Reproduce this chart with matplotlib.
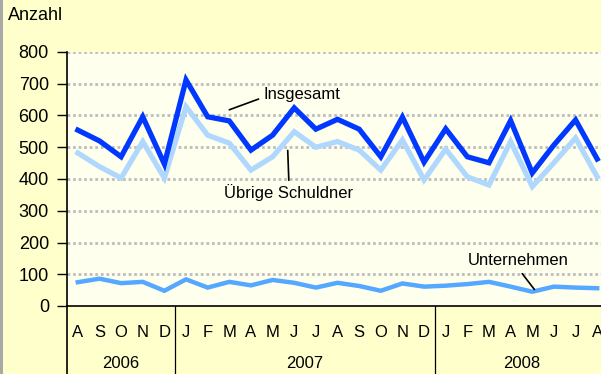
import matplotlib
matplotlib.use("Agg")
import matplotlib.pyplot as plt
from matplotlib.transforms import blended_transform_factory
from matplotlib.patches import Rectangle

plt.rcParams['font.family'] = ['Liberation Sans', 'DejaVu Sans']

months = ["A", "S", "O", "N", "D",
          "J", "F", "M", "A", "M", "J", "J", "A", "S", "O", "N", "D",
          "J", "F", "M", "A", "M", "J", "J", "A"]
years = ["2006", "2007", "2008"]
year_spans = [(0, 4), (5, 16), (17, 24)]

insgesamt = [554, 520, 470, 596, 447, 712, 596, 583, 491, 538, 624, 557, 588,
             557, 470, 595, 453, 558, 470, 451, 584, 419, 507, 586, 463]
uebrige = [482, 439, 403, 518, 403, 628, 538, 513, 428, 470, 549, 500, 518,
           491, 428, 523, 397, 494, 407, 381, 518, 376, 451, 529, 407]
unternehmen = [75, 86, 72, 76, 48, 84, 58, 76, 65, 82, 73, 58, 73,
               63, 48, 71, 61, 64, 69, 76, 61, 45, 61, 58, 56]

W, H = 601, 374
fig = plt.figure(figsize=(W / 100, H / 100), dpi=100, facecolor="#FFFFCC")

# grey border strip on the left edge
fig.patches.append(Rectangle((0, 0), 3 / W, 1, transform=fig.transFigure,
                             facecolor="#A8A8A8", edgecolor="none", zorder=0))

ax = fig.add_axes([67 / W, (H - 306) / H, 541 / W, 254 / H])
ax.set_facecolor("#FFFFEE")

x = list(range(len(months)))
ax.plot(x, uebrige, color="#B0D8FF", lw=3.8, solid_joinstyle="miter", zorder=3)
ax.plot(x, insgesamt, color="#0038FF", lw=3.8, solid_joinstyle="miter", zorder=4)
ax.plot(x, unternehmen, color="#55A8FF", lw=3.2, solid_joinstyle="miter", zorder=3)

ax.set_xlim(-0.5, len(months) - 0.5)
ax.set_ylim(0, 800)
ax.set_yticks(range(0, 801, 100))
ax.tick_params(axis="y", direction="out", length=7, width=1, pad=6, labelsize=13)
ax.set_xticks(x)
ax.set_xticklabels(months)
ax.tick_params(axis="x", length=0, pad=14, labelsize=12)

for y in range(100, 801, 100):
    ax.axhline(y, color="#BDBDBD", lw=2, ls=(0, (1, 1)), zorder=1)

for side in ("top", "right"):
    ax.spines[side].set_visible(False)
ax.spines["left"].set_linewidth(1.2)
ax.spines["bottom"].set_linewidth(1.2)

# category axis separators and year labels below the plot
tr = blended_transform_factory(ax.transData, ax.transAxes)
for sep in (-0.5, 4.5, 16.5):
    ax.plot([sep, sep], [0, -0.3], transform=tr, color="#000000",
            lw=1.2 if sep < 0 else 0.9, clip_on=False)
for label, (a, b) in zip(years, year_spans):
    ax.text((a + b) / 2, -0.225, label, transform=tr, ha="center", va="center",
            fontsize=12)

fig.text(8 / W, 1 - 16 / H, "Anzahl", ha="left", va="center", fontsize=13)

# series labels with leader lines
ax.annotate("Insgesamt", xy=(7.0, 618), xytext=(8.6, 666), fontsize=12,
            ha="left", va="center",
            arrowprops=dict(arrowstyle="-", color="black", lw=1.2,
                            shrinkA=0, shrinkB=0, relpos=(-0.07, 0.2)))
ax.annotate("Übrige Schuldner", xy=(9.7, 490), xytext=(9.75, 356), fontsize=12,
            ha="center", va="center",
            arrowprops=dict(arrowstyle="-", color="black", lw=1.2,
                            shrinkA=0, shrinkB=0, relpos=(0.5, 1.25)))
ax.annotate("Unternehmen", xy=(21.1, 52), xytext=(20.35, 142), fontsize=12,
            ha="center", va="center",
            arrowprops=dict(arrowstyle="-", color="black", lw=1.2,
                            shrinkA=0, shrinkB=0, relpos=(0.54, -0.35)))

fig.savefig("out.png", dpi=100, facecolor=fig.get_facecolor())
